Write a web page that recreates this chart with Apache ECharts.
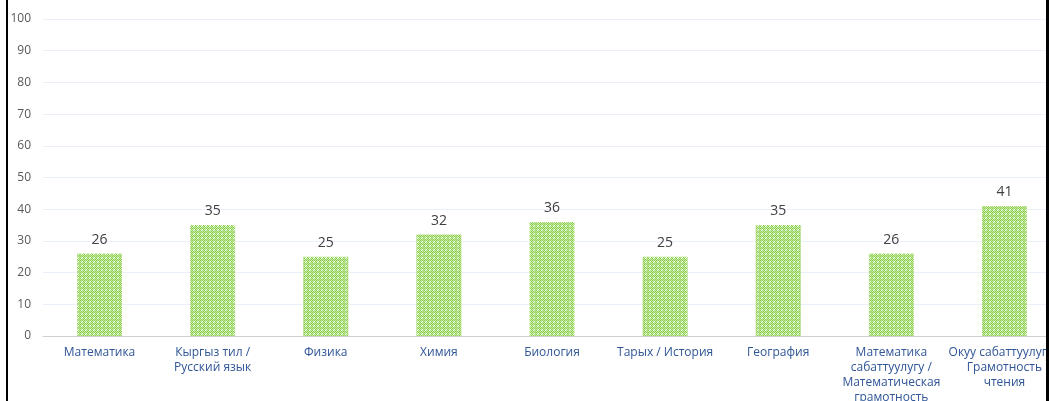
<!DOCTYPE html>
<html>
<head>
<meta charset="utf-8">
<script src="https://cdn.jsdelivr.net/npm/echarts@6/dist/echarts.min.js"></script>
<style>
  html, body { margin: 0; padding: 0; background: #fff; }
  #wrap { position: relative; width: 1049px; height: 401px; overflow: hidden; }
  #chart { position: absolute; left: 0; top: 0; width: 1061px; height: 401px; }
  .edge { position: absolute; top: 0; height: 401px; background: #000; z-index: 5; }
</style>
</head>
<body>
<div id="wrap">
  <div id="chart"></div>
  <div class="edge" style="left:6px;width:2px"></div>
  <div class="edge" style="left:1046px;width:3px"></div>
</div>
<script>
const subjects = [
  'Математика',
  'Кыргыз тил /\nРусский язык',
  'Физика',
  'Химия',
  'Биология',
  'Тарых / История',
  'География',
  'Математика\nсабаттуулугу /\nМатематическая\nграмотность',
  'Окуу сабаттуулугу /\nГрамотность\nчтения'
]
const scores = [26, 35, 25, 32, 36, 25, 35, 26, 41]
const yTicks = [0, 10, 20, 30, 40, 50, 60, 70, 80, 90, 100]

// checkered green fill like the office pattern
const makePattern = () => {
  const c = document.createElement('canvas')
  c.width = 8
  c.height = 8
  const ctx = c.getContext('2d')
  for (let y = 0; y < 8; y++) {
    for (let x = 0; x < 8; x++) {
      const band = (x % 4 === 1 || x % 4 === 2) && (y % 4 === 1 || y % 4 === 2)
      if ((x + y) % 2 === 0) ctx.fillStyle = band ? '#b3e18a' : '#8fd04e'
      else ctx.fillStyle = band ? '#eef8e6' : '#c6e8a6'
      ctx.fillRect(x, y, 1, 1)
    }
  }
  return c
}

const chart = echarts.init(document.getElementById('chart'))
chart.setOption({
  animation: false,
  grid: { left: 43, right: 0, top: 19, bottom: 65, outerBoundsMode: 'none', containLabel: false },
  xAxis: {
    type: 'category',
    data: subjects,
    axisTick: { show: false },
    axisLine: { lineStyle: { color: '#d0d0d0', width: 1 } },
    axisLabel: {
      interval: 0,
      margin: 9,
      color: '#2f5597',
      fontSize: 12,
      lineHeight: 15,
      fontFamily: 'Open Sans'
    }
  },
  yAxis: {
    type: 'value',
    min: yTicks[0],
    max: yTicks[yTicks.length - 1],
    interval: 10,
    axisLine: { show: false },
    axisTick: { show: false },
    axisLabel: { color: '#595959', fontSize: 12, margin: 12, fontFamily: 'Open Sans' },
    splitLine: { lineStyle: { color: '#e9f0fa', width: 1 } }
  },
  series: [{
    type: 'bar',
    data: scores,
    barWidth: 45,
    itemStyle: { color: { image: makePattern(), repeat: 'repeat' } },
    label: {
      show: true,
      position: 'top',
      distance: 7,
      color: '#404040',
      fontSize: 14,
      fontFamily: 'Open Sans'
    }
  }]
})
</script>
</body>
</html>
